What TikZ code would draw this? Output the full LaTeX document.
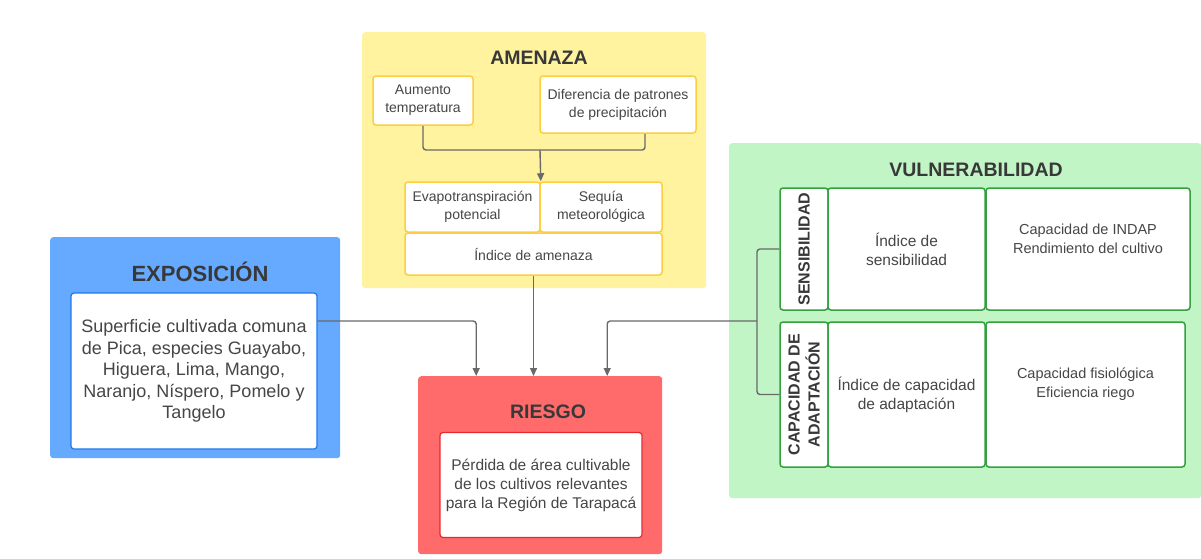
\documentclass[tikz,border=0pt]{standalone}
\usepackage{fontspec}
\setmainfont{Liberation Sans}
\usetikzlibrary{arrows.meta,positioning}
\definecolor{amyellow}{RGB}{255,243,160}
\definecolor{amborder}{RGB}{252,206,64}
\definecolor{exblue}{RGB}{102,170,255}
\definecolor{exborder}{RGB}{30,120,235}
\definecolor{rired}{RGB}{255,107,107}
\definecolor{riborder}{RGB}{232,40,45}
\definecolor{vugreen}{RGB}{194,245,198}
\definecolor{vuborder}{RGB}{52,160,64}
\definecolor{txtgray}{RGB}{70,70,70}
\definecolor{linegray}{RGB}{105,105,105}
\begin{document}
\begin{tikzpicture}[x=1pt,y=-1pt,
  every node/.style={text=txtgray},
  panel/.style={rounded corners=3pt,inner sep=0pt,anchor=north west},
  cellbox/.style={draw,fill=white,rounded corners=3pt,line width=1.5pt,align=center,inner sep=2pt},
  headtext/.style={font=\fontsize{19.5}{22}\selectfont\bfseries,text=black!78},
  sidetext/.style={rotate=90,align=center,font=\fontsize{16}{20}\selectfont\bfseries,text=black!78},
  smalltext/.style={font=\fontsize{14}{18}\selectfont},
  celltext/.style={font=\fontsize{15.5}{19}\selectfont},
  vartext/.style={font=\fontsize{14.5}{19}\selectfont},
  wire/.style={draw=linegray,line width=1.4pt,rounded corners=3pt},
  link/.style={wire,-{Triangle[length=8pt,width=7pt]}},
]
  \useasboundingbox (0,0) rectangle (1201,558);

  % Amenaza
  \node[panel,fill=amyellow,minimum width=344pt,minimum height=256pt] (amenaza) at (362,32) {};
  \node[headtext] (amenazaT) at (539,58) {AMENAZA};
  \node[cellbox,smalltext,draw=amborder,minimum width=100pt,minimum height=49pt] (aumento) at (423,100.5) {Aumento\\temperatura};
  \node[cellbox,smalltext,draw=amborder,minimum width=156pt,minimum height=57pt] (diferencia) at (618,104.5) {Diferencia de patrones\\de precipitación};
  \node[cellbox,smalltext,draw=amborder,minimum width=135pt,minimum height=50pt] (evapo) at (472.5,207) {Evapotranspiración\\potencial};
  \node[cellbox,smalltext,draw=amborder,minimum width=122pt,minimum height=50pt] (sequia) at (601,207) {Sequía\\meteorológica};
  \node[cellbox,smalltext,draw=amborder,minimum width=257pt,minimum height=42pt] (indiceam) at (533.5,254) {Índice de amenaza};
  \coordinate (amjoin) at (540,150);
  \draw[wire] (aumento.south) |- (amjoin) -| ([xshift=27pt]diferencia.south);
  \draw[link] (amjoin) -- (evapo.north east);

  % Exposicion
  \node[panel,fill=exblue,minimum width=290pt,minimum height=221pt] (exposicion) at (50,237) {};
  \node[headtext,font=\fontsize{22}{24}\selectfont\bfseries] (exposicionT) at (200,272) {EXPOSICIÓN};
  \node[cellbox,draw=exborder,line width=1.2pt,font=\fontsize{18}{21.5}\selectfont,
        minimum width=246pt,minimum height=156pt] (exinner) at (194,371)
       {Superficie cultivada comuna\\de Pica, especies Guayabo,\\Higuera, Lima, Mango,\\Naranjo, Níspero, Pomelo y\\Tangelo};

  % Riesgo
  \node[panel,fill=rired,minimum width=244pt,minimum height=178pt] (riesgo) at (418,376) {};
  \node[headtext] (riesgoT) at (548,412) {RIESGO};
  \node[cellbox,draw=riborder,line width=1.2pt,font=\fontsize{15.5}{19}\selectfont,
        minimum width=202pt,minimum height=105pt] (riinner) at (541,485)
       {Pérdida de área cultivable\\de los cultivos relevantes\\para la Región de Tarapacá};

  % Vulnerabilidad
  \node[panel,fill=vugreen,minimum width=472pt,minimum height=355pt] (vulnerab) at (729,143) {};
  \node[headtext] (vulnerabT) at (976,170) {VULNERABILIDAD};
  \node[cellbox,draw=vuborder,minimum width=48pt,minimum height=122pt] (senslbl) at (804,249) {};
  \node[sidetext] (senstxt) at (senslbl.center) {SENSIBILIDAD};
  \node[cellbox,celltext,draw=vuborder,minimum width=157pt,minimum height=122pt] (sensidx) at (906.5,249) {Índice de\\sensibilidad};
  \node[cellbox,draw=vuborder,minimum width=204pt,minimum height=122pt,
        label={[vartext,align=center,yshift=10pt]center:Capacidad de INDAP\\Rendimiento del cultivo}] (sensvar) at (1088,249) {};
  \node[cellbox,draw=vuborder,minimum width=48pt,minimum height=145pt] (caplbl) at (804,394.5) {};
  \node[sidetext] (captxt) at (caplbl.center) {CAPACIDAD DE\\ADAPTACIÓN};
  \node[cellbox,celltext,draw=vuborder,minimum width=157pt,minimum height=145pt] (capidx) at (906.5,394.5) {Índice de capacidad\\de adaptación};
  \node[cellbox,draw=vuborder,minimum width=199pt,minimum height=145pt,
        label={[vartext,align=center,yshift=10pt]center:Capacidad fisiológica\\Eficiencia riego}] (capvar) at (1085.5,394.5) {};
  \coordinate (vujoin) at (757,321);
  \draw[wire] (senslbl.west) -| (vujoin) |- (caplbl.west);

  % Flechas hacia riesgo
  \draw[link] (indiceam.south) -- (indiceam.south |- riesgo.north);
  \draw[link] (exinner.east |- vujoin) -| ([xshift=-64pt]riesgo.north);
  \draw[link] (vujoin) -| ([xshift=67pt]riesgo.north);
\end{tikzpicture}
\end{document}
